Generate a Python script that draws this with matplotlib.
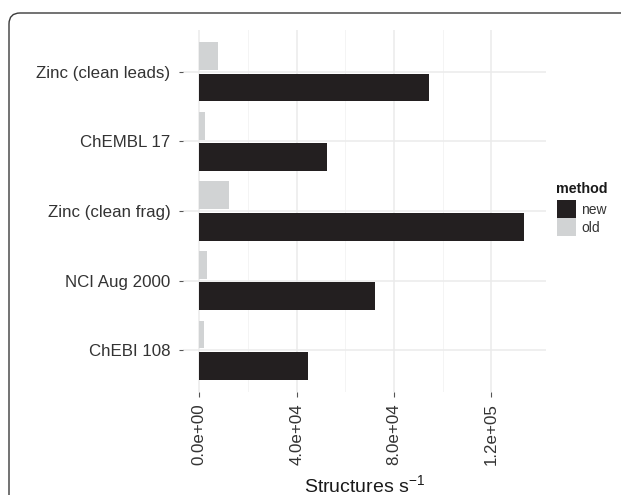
import matplotlib
matplotlib.use("Agg")
import matplotlib.pyplot as plt
from matplotlib.patches import Rectangle, FancyBboxPatch
from matplotlib.transforms import IdentityTransform
import numpy as np

categories = ['Zinc (clean leads)', 'ChEMBL 17', 'Zinc (clean frag)', 'NCI Aug 2000', 'ChEBI 108']
new_vals = [94300, 52400, 133300, 72200, 44600]
old_vals = [7700, 2500, 12300, 3200, 1900]
methods = ['new', 'old']
x_ticks = [0, 40000, 80000, 120000]
x_tick_labels = ['0.0e+00', '4.0e+04', '8.0e+04', '1.2e+05']
x_minor = [20000, 60000, 100000]

plt.rcParams['font.family'] = ['Liberation Sans', 'DejaVu Sans']
plt.rcParams['mathtext.fontset'] = 'custom'
plt.rcParams['mathtext.rm'] = 'Liberation Sans'
plt.rcParams['mathtext.default'] = 'regular'

W, H = 621, 495
fig = plt.figure(figsize=(W / 100, H / 100), dpi=100)
fig.patch.set_facecolor('white')

def fx(px):
    return px / W

def fy(py):
    return 1 - py / H

left, right, top, bottom = 183, 546, 30, 392
ax = fig.add_axes([fx(left), fy(bottom), fx(right) - fx(left), fy(top) - fy(bottom)])
ax.set_facecolor('white')

colors = {'new': '#231f20', 'old': '#d1d3d4'}
y = np.arange(len(categories))
ax.barh(y - 0.225, old_vals, height=0.4, color=colors['old'], zorder=3)
ax.barh(y + 0.225, new_vals, height=0.4, color=colors['new'], zorder=3)

ax.set_ylim(len(categories) - 0.4, -0.6)
ax.set_xlim(-6700, 142400)

# gridlines
for v in x_minor:
    ax.axvline(v, color='#f4f4f4', lw=0.7, zorder=0)
for v in x_ticks:
    ax.axvline(v, color='#ebebeb', lw=1.1, zorder=1)
for yy in y:
    ax.axhline(yy, color='#ebebeb', lw=1.1, zorder=1)

ax.set_yticks(y)
ax.set_yticklabels(categories)
ax.set_xticks(x_ticks)
ax.set_xticklabels(x_tick_labels, rotation=90)
ax.tick_params(axis='y', length=3, width=0.8, color='#555555', pad=6, labelsize=12.2, labelcolor='#333333')
ax.tick_params(axis='x', length=3.5, width=0.8, color='#555555', pad=4.5, labelsize=12.2, labelcolor='#333333')
for s in ax.spines.values():
    s.set_visible(False)

fig.text(fx(364.5), fy(492), 'Structures s$^{-1}$', ha='center', va='baseline', fontsize=14, color='#1a1a1a')

# legend
fig.text(fx(556), fy(193.3), 'method', ha='left', va='baseline', fontsize=10.3, fontweight='bold', color='#1a1a1a')
key_top = 200
key_h = 18
for i, m in enumerate(methods):
    yt = key_top + i * key_h
    fig.add_artist(Rectangle((fx(556.5), fy(yt + key_h)), fx(19), key_h / H,
                             transform=fig.transFigure, facecolor=colors[m], edgecolor='none'))
    fig.text(fx(581), fy(yt + key_h / 2 + 0.5), m, ha='left', va='center', fontsize=10, color='#333333')

# frame with rounded corner
frame = FancyBboxPatch((9, -60), 700, (H - 13) + 60, boxstyle='round,pad=0,rounding_size=11',
                       transform=IdentityTransform(), facecolor='none', edgecolor='#3a3a3a', lw=1.0)
fig.add_artist(frame)

fig.savefig('out.png', dpi=100, facecolor='white')
